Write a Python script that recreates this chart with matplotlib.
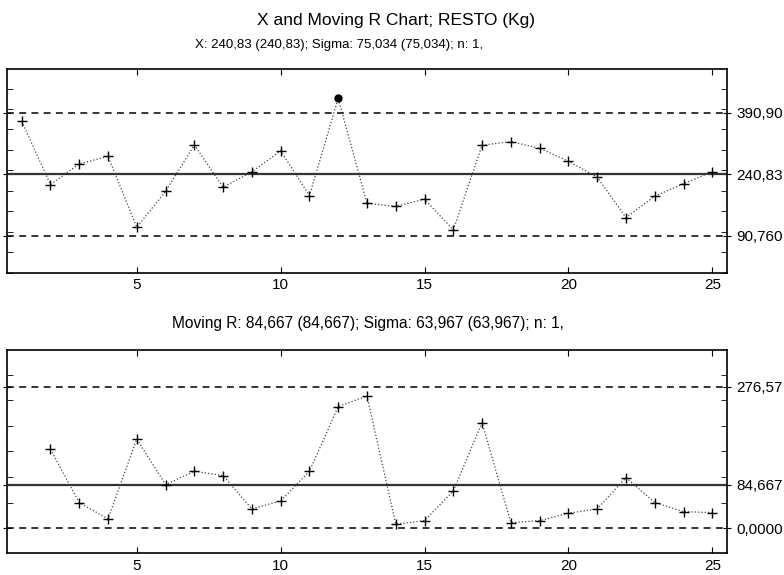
import matplotlib.pyplot as plt
import numpy as np

plt.rcParams['font.family'] = ['Liberation Sans', 'DejaVu Sans']

# Dữ liệu
samples = list(range(1, 26))
x_values = [369.8, 215.5, 265.8, 284.5, 111.2, 198.6, 312.3, 208.9, 246.7, 297.7,
            188.4, 426.0, 169.6, 162.1, 179.6, 104.6, 311.7, 320.4, 304.2, 272.3,
            233.6, 134.6, 187.0, 217.7, 246.7]
mr_samples = list(range(2, 26))
mr_values = [154.2, 50.0, 18.2, 174.3, 85.1, 111.3, 102.7, 37.7, 53.3, 111.3,
             237.4, 258.3, 7.8, 14.8, 72.8, 206.1, 10.9, 14.8, 29.3, 37.7,
             98.8, 50.0, 32.4, 30.5]
x_limits = [90.760, 240.83, 390.90]
x_limit_labels = ['90,760', '240,83', '390,90']
mr_limits = [0.0, 84.667, 276.57]
mr_limit_labels = ['0,0000', '84,667', '276,57']
x_ticks = [5, 10, 15, 20, 25]

fig = plt.figure(figsize=(7.84, 5.75), dpi=100)
ax1 = fig.add_axes([0.0093, 0.5257, 0.9176, 0.3537])
ax2 = fig.add_axes([0.0093, 0.0377, 0.9176, 0.3536])


def control_chart(ax, xs, ys, limits, labels, ylim, minor_step):
    lcl, cl, ucl = limits
    ax.axhline(ucl, color='black', lw=1.1, ls=(0, (4.5, 3.5)))
    ax.axhline(lcl, color='black', lw=1.1, ls=(0, (4.5, 3.5)))
    ax.axhline(cl, color='#333333', lw=1.6)
    ax.plot(xs, ys, color='#444444', lw=0.9, ls=':')
    ys = np.array(ys)
    xs = np.array(xs)
    out = (ys > ucl) | (ys < lcl)
    ax.plot(xs[~out], ys[~out], ls='none', marker='+', ms=7, mew=1.0, color='black')
    ax.plot(xs[out], ys[out], ls='none', marker='o', ms=5, color='black')

    ax.set_xlim(0.5, 25.5)
    ax.set_ylim(*ylim)
    ax.set_xticks(x_ticks)
    ax.tick_params(axis='x', direction='in', top=True, length=4, labelsize=11, pad=4)

    # nhãn giới hạn bên phải
    ax.yaxis.tick_right()
    ax.set_yticks(limits)
    ax.set_yticklabels(labels)
    ax.set_yticks(np.arange(0, ylim[1], minor_step), minor=True)
    ax.tick_params(axis='y', which='major', direction='inout', length=6,
                   left=True, right=True, labelsize=11, pad=4)
    ax.tick_params(axis='y', which='minor', direction='in', length=4,
                   left=True, right=True)
    for s in ax.spines.values():
        s.set_linewidth(1.2)


control_chart(ax1, samples, x_values, x_limits, x_limit_labels, (52, 497), 50)
control_chart(ax2, mr_samples, mr_values, mr_limits, mr_limit_labels, (-49, 348), 50)

fig.text(0.505, 0.964, 'X and Moving R Chart; RESTO (Kg)', ha='center', va='center', fontsize=12.5)
fig.text(0.433, 0.922, 'X: 240,83 (240,83); Sigma: 75,034 (75,034); n: 1,',
         ha='center', va='center', fontsize=9.5)
fig.text(0.469, 0.438, 'Moving R: 84,667 (84,667); Sigma: 63,967 (63,967); n: 1,',
         ha='center', va='center', fontsize=11.2)

fig.savefig('out.png', dpi=100)
